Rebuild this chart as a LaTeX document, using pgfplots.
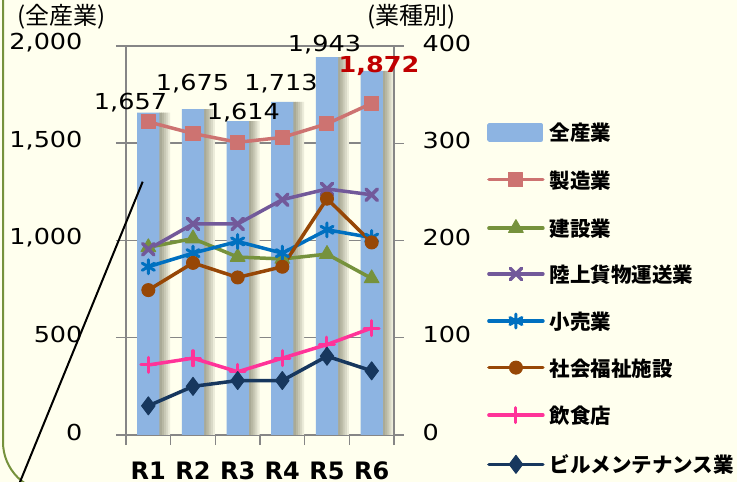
\documentclass[border=0pt]{standalone}
\usepackage{pgfplots}
\pgfplotsset{compat=1.18}
\usepackage{fontspec}
\setmainfont[FakeStretch=1.16]{DejaVu Sans}
\newfontfamily\rfont{DejaVu Sans}
\newfontfamily\jp{Noto Sans CJK JP}
\definecolor{bgc}{RGB}{255,255,238}
\definecolor{bordc}{RGB}{118,146,60}
\definecolor{axgray}{RGB}{134,134,134}
\definecolor{barblue}{RGB}{141,180,226}
\definecolor{shadowc}{RGB}{160,160,140}
\definecolor{cmfg}{RGB}{205,115,113}
\definecolor{ccon}{RGB}{118,146,60}
\definecolor{ctrk}{RGB}{114,89,154}
\definecolor{cret}{RGB}{0,112,192}
\definecolor{cwel}{RGB}{151,71,6}
\definecolor{cfood}{RGB}{255,51,153}
\definecolor{cbld}{RGB}{23,55,94}
\definecolor{redlab}{RGB}{192,0,0}

\pgfplotstableread{
x total
1 1657
2 1675
3 1614
4 1713
5 1943
6 1872
}\totaltab

\pgfplotstableread{
x mfg con trk ret wel food bld
1 322 193 191 173 149 72 30
2 310 202 217 187 177 79 50
3 301 183 217 199 162 65 56
4 306 181 242 187 173 79 56
5 320 186 253 211 243 93 81
6 341 161 247 203 198 110 66
}\indtab

\newcommand\numfont{\fontsize{22}{22}\selectfont}

\begin{document}
\begin{tikzpicture}
\useasboundingbox (0,0) rectangle (737pt,482pt);
\fill[bgc] (0,0) rectangle (737pt,482pt);
\begin{scope}
\clip (0,0) rectangle (737pt,482pt);
\draw[bordc, line width=2pt, rounded corners=50pt] (3pt,520pt) -- (3pt,-10pt) -- (400pt,-10pt);
\end{scope}

\pgfplotsset{
  base/.style={
    scale only axis, width=268pt, height=389pt,
    at={(126pt,47pt)}, anchor=south west,
    xmin=0.5, xmax=6.5,
    tick align=outside, major tick length=10pt, minor tick length=10pt,
    axis line style={draw=axgray, line width=1.5pt},
    every tick/.style={draw=axgray, line width=1.5pt},
    /pgf/number format/assume math mode=true,
    /pgf/number format/1000 sep={,},
    tick label style={font=\numfont, text=black},
  },
  shadow/.style={ybar, bar width=2.6pt, draw=none, fill=#1},
}

\begin{axis}[base,
  ymin=0, ymax=2000, ytick={0,500,...,2000},
  axis x line*=bottom, axis y line*=left,
  ymajorgrids, grid style={draw=axgray, line width=1.5pt},
  xtick={1,...,6}, xticklabels={R1,R2,R3,R4,R5,R6},
  minor xtick={0.5,1.5,...,6.5},
  major x tick style={draw=none},
  xticklabel style={font=\rfont\bfseries\fontsize{24}{24}\selectfont, anchor=base, inner sep=0pt, yshift=-34pt},
  yticklabel style={anchor=east, xshift=-30pt, yshift=3pt},
]
\addplot[shadow=shadowc!20!bgc, bar shift=20.6pt] table[x=x, y=total] {\totaltab};
\addplot[shadow=shadowc!40!bgc, bar shift=18.5pt] table[x=x, y=total] {\totaltab};
\addplot[shadow=shadowc!58!bgc, bar shift=16.4pt] table[x=x, y=total] {\totaltab};
\addplot[shadow=shadowc!75!bgc, bar shift=14.3pt] table[x=x, y=total] {\totaltab};
\addplot[shadow=shadowc!90!bgc, bar shift=12.2pt] table[x=x, y=total] {\totaltab};
\addplot[ybar, bar width=22.3pt, bar shift=0pt, draw=none, fill=barblue] table[x=x, y=total] {\totaltab};
\end{axis}

\begin{axis}[base,
  ymin=0, ymax=400, ytick={0,100,...,400},
  axis x line=none, axis y line*=right,
  yticklabel style={anchor=west, xshift=15pt, yshift=3pt},
  legend style={at={(1.347,0.802)}, anchor=north west, draw=none, fill=none,
    inner sep=0pt, row sep=25.6pt, column sep=5pt,
    font=\jp\bfseries\fontsize{20.5}{20.5}\selectfont,
    nodes={inner sep=0pt, text height=14pt, text depth=6pt}},
  legend cell align=left,
  legend image code/.code={\draw[mark repeat=2, mark phase=2, #1] plot coordinates {(0pt,4.5pt) (27pt,4.5pt) (54pt,4.5pt)};},
  every axis plot/.append style={line width=3.5pt, line cap=round, line join=round},
]
\addlegendimage{legend image code/.code={\fill[barblue] (0pt,-3pt) rectangle (52pt,12pt);}}
\addlegendentry{全産業}
\addplot[cmfg, mark=square*, mark size=7pt, mark options={line width=1pt}] table[x=x, y=mfg] {\indtab};
\addlegendentry{製造業}
\addplot[ccon, mark=triangle*, mark size=8.5pt, mark options={line width=1pt}] table[x=x, y=con] {\indtab};
\addlegendentry{建設業}
\addplot[ctrk, mark=x, mark size=8pt, mark options={line width=3.5pt}] table[x=x, y=trk] {\indtab};
\addlegendentry{陸上貨物運送業}
\addplot[cret, mark=asterisk, mark size=7pt, mark options={line width=3pt}] table[x=x, y=ret] {\indtab};
\addlegendentry{小売業}
\addplot[cwel, mark=*, mark size=6.5pt, mark options={line width=1pt}] table[x=x, y=wel] {\indtab};
\addlegendentry{社会福祉施設}
\addplot[cfood, mark=+, mark size=7.5pt, mark options={line width=3pt}] table[x=x, y=food] {\indtab};
\addlegendentry{飲食店}
\addplot[cbld, mark=diamond*, mark size=9pt, mark options={line width=1pt}] table[x=x, y=bld] {\indtab};
\addlegendentry{ビルメンテナンス業}
\end{axis}

\node[anchor=base, font=\numfont] at (130.5pt,372pt) {1,657};
\node[anchor=base, font=\numfont] at (192.5pt,391.3pt) {1,675};
\node[anchor=base, font=\numfont] at (243.3pt,362.7pt) {1,614};
\node[anchor=base, font=\numfont] at (281pt,391.3pt) {1,713};
\node[anchor=base, font=\numfont] at (324.5pt,430.3pt) {1,943};
\node[anchor=base, font=\numfont\bfseries, text=redlab] at (379pt,409.3pt) {1,872};

\node[font=\jp\fontsize{24}{24}\selectfont, inner sep=0pt] at (61.5pt,465pt) {(全産業)};
\node[font=\jp\fontsize{24}{24}\selectfont, inner sep=0pt] at (411.5pt,465pt) {(業種別)};

\draw[black, line width=2pt] (142.7pt,300.3pt) -- (15.9pt,-10pt);
\end{tikzpicture}
\end{document}
